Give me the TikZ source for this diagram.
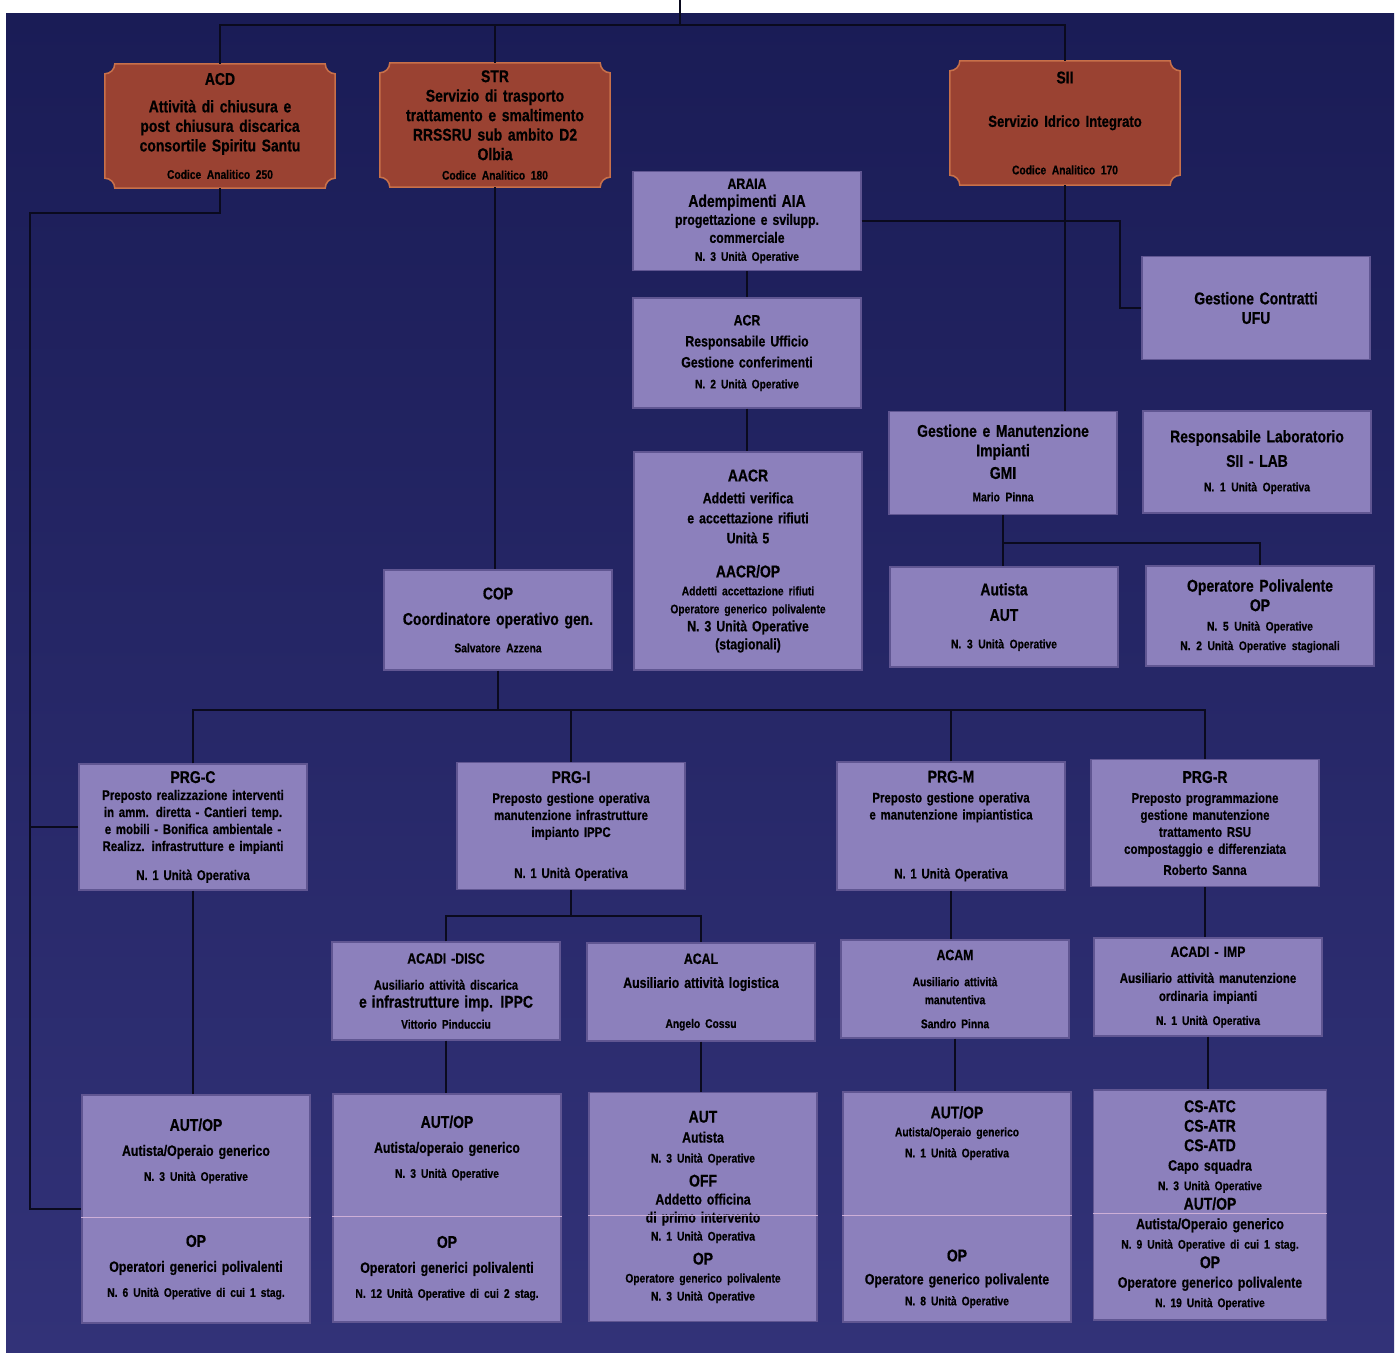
\documentclass[tikz,border=0pt]{standalone}
\usepackage{fontspec}
\setmainfont{Liberation Sans}[FakeStretch=0.82, WordSpace=0.7, BoldFeatures={FakeBold=0.6}]
\usepackage{tikz}
\usetikzlibrary{calc}
\definecolor{navytop}{RGB}{26,28,86}
\definecolor{navybot}{RGB}{50,50,120}
\definecolor{lilac}{RGB}{140,128,188}
\definecolor{lilacedge}{RGB}{96,86,146}
\definecolor{rust}{RGB}{154,66,50}
\definecolor{rustedge}{RGB}{200,112,74}
\definecolor{wire}{RGB}{10,10,30}
\definecolor{seam}{RGB}{205,175,215}

\pgfdeclarelayer{bglayer}
\pgfdeclarelayer{framelayer}
\pgfsetlayers{bglayer,framelayer,main}

\newcommand{\hd}{\fontsize{17}{19}\selectfont}
\newcommand{\sm}{\fontsize{12.5}{15}\selectfont}
% brown box with notched corners, drawn behind node #1
\newcommand{\ticketframe}[1]{%
  \path[fill=rust, draw=rustedge, line width=1.5pt]
    let \p1=(#1.north west), \p2=(#1.south east) in
    (\x1+10pt,\y1) -- (\x2-10pt,\y1) arc[start angle=180, end angle=270, radius=10pt]
    -- (\x2,\y2+10pt) arc[start angle=90, end angle=180, radius=10pt]
    -- (\x1+10pt,\y2) arc[start angle=0, end angle=90, radius=10pt]
    -- (\x1,\y1-10pt) arc[start angle=270, end angle=360, radius=10pt] -- cycle;}

\begin{document}
\begin{tikzpicture}[x=1pt, y=-1pt,
  unit/.style={draw=lilacedge, fill=lilac, line width=1.2pt, align=center, inner sep=0pt,
    minimum width=228pt, minimum height=100pt, text width=224pt,
    font=\bfseries\fontsize{15}{18}\selectfont},
  ticket/.style={align=center, inner sep=0pt, minimum width=230pt, minimum height=124pt,
    text width=226pt, font=\bfseries\fontsize{17}{19.5}\selectfont},
  bigtext/.style={font=\bfseries\fontsize{17}{19.5}\selectfont},
  smalltext/.style={font=\bfseries\fontsize{14}{17}\selectfont},
  link/.style={draw=wire, line width=2.6pt},
  seamline/.style={draw=seam, line width=0.8pt}]

  % background
  \begin{pgfonlayer}{bglayer}
    \fill[white] (0,0) rectangle (1399,1356);
    \shade[top color=navytop, bottom color=navybot] (6,14) rectangle (1394,1352);
  \end{pgfonlayer}
  \useasboundingbox (0,0) rectangle (1399,1356);

  % top row
  \node[ticket] (acd) at (220,126) {{\hd ACD}\\[8pt] Attività di chiusura e\\ post chiusura discarica\\ consortile Spiritu Santu\\[8pt] {\sm Codice Analitico 250}};
  \node[ticket] (str) at (495,125) {STR\\ Servizio di trasporto\\ trattamento e smaltimento\\ RRSSRU sub ambito D2\\ Olbia\\ {\sm Codice Analitico 180}};
  \node[ticket] (sii) at (1065,123) {SII\\[24pt] {\fontsize{16}{19}\selectfont Servizio Idrico Integrato}\\[28pt] {\sm Codice Analitico 170}};
  \begin{pgfonlayer}{framelayer}
    \foreach \t in {acd,str,sii} {\ticketframe{\t}}
  \end{pgfonlayer}

  % middle block
  \node[unit, minimum height=99pt] (araia) at (747,221) {ARAIA\\ {\hd Adempimenti AIA}\\ progettazione e svilupp.\\ commerciale\\ {\sm N. 3 Unità Operative}};
  \node[unit, minimum height=110pt] (acr) at (747,353) {ACR\\[3pt] Responsabile Ufficio\\[3pt] Gestione conferimenti\\[3pt] {\sm N. 2 Unità Operative}};
  \node[unit, bigtext, minimum height=103pt] (gc) at (1256,308) {Gestione Contratti\\ UFU};
  \node[unit, bigtext, minimum height=103pt] (gm) at (1003,463) {Gestione e Manutenzione\\ Impianti\\[3pt] GMI\\[3pt] {\sm Mario Pinna}};
  \node[unit, bigtext, minimum height=102pt] (lab) at (1257,462) {Responsabile Laboratorio\\[5pt] SII - LAB\\[5pt] {\sm N. 1 Unità Operativa}};
  \node[unit, minimum height=218pt] (aacr) at (748,561) {{\hd AACR}\\[4pt] Addetti verifica\\[2pt] e accettazione rifiuti\\[2pt] Unità 5\\[16pt] {\hd AACR/OP}\\ {\sm Addetti accettazione rifiuti}\\ {\sm Operatore generico polivalente}\\ N. 3 Unità Operative\\ (stagionali)};
  \node[unit, bigtext] (cop) at (498,620) {COP\\[6pt] Coordinatore operativo gen.\\[8pt] {\sm Salvatore Azzena}};
  \node[unit, bigtext] (aut) at (1004,617) {Autista\\[6pt] AUT\\[8pt] {\sm N. 3 Unità Operative}};
  \node[unit, bigtext] (oppol) at (1260,616) {Operatore Polivalente\\ OP\\ {\sm N. 5 Unità Operative}\\ {\sm N. 2 Unità Operative stagionali}};

  % PRG row
  \node[unit, smalltext, minimum height=126pt] (prgc) at (193,827) {{\hd PRG-C}\\ Preposto realizzazione interventi\\ in amm. diretta - Cantieri temp.\\ e mobili - Bonifica ambientale -\\ Realizz. infrastrutture e impianti\\[12pt] N. 1 Unità Operativa};
  \node[unit, smalltext, minimum height=127pt] (prgi) at (571,826) {{\hd PRG-I}\\[3pt] Preposto gestione operativa\\ manutenzione infrastrutture\\ impianto IPPC\\[24pt] N. 1 Unità Operativa};
  \node[unit, smalltext, minimum height=128pt] (prgm) at (951,826) {{\hd PRG-M}\\[3pt] Preposto gestione operativa\\ e manutenzione impiantistica\\[42pt] N. 1 Unità Operativa};
  \node[unit, smalltext, minimum height=127pt] (prgr) at (1205,823) {{\hd PRG-R}\\[3pt] Preposto programmazione\\ gestione manutenzione\\ trattamento RSU\\ compostaggio e differenziata\\[4pt] Roberto Sanna};

  % auxiliary row
  \node[unit, minimum height=98pt] (acadi) at (446,991) {ACADI -DISC\\[8pt] {\fontsize{13.5}{16}\selectfont Ausiliario attività discarica}\\ {\hd e infrastrutture imp. IPPC}\\[3pt] {\sm Vittorio Pinducciu}};
  \node[unit, minimum height=98pt] (acal) at (701,992) {ACAL\\[6pt] Ausiliario attività logistica\\[22pt] {\sm Angelo Cossu}};
  \node[unit, minimum height=98pt] (acam) at (955,989) {ACAM\\[8pt] {\sm Ausiliario attività}\\ {\sm manutentiva}\\[6pt] {\sm Sandro Pinna}};
  \node[unit, minimum height=98pt] (acimp) at (1208,987) {ACADI - IMP\\[8pt] {\fontsize{14}{16}\selectfont Ausiliario attività manutenzione}\\ {\fontsize{14}{16}\selectfont ordinaria impianti}\\[6pt] {\sm N. 1 Unità Operativa}};

  % bottom row
  \node[unit, minimum height=228pt] (b1) at (196,1209) {{\hd AUT/OP}\\[7pt] Autista/Operaio generico\\[7pt] {\sm N. 3 Unità Operative}\\[48pt] {\hd OP}\\[7pt] Operatori generici polivalenti\\[7pt] {\sm N. 6 Unità Operative di cui 1 stag.}};
  \node[unit, minimum height=228pt] (b2) at (447,1208) {{\hd AUT/OP}\\[7pt] Autista/operaio generico\\[7pt] {\sm N. 3 Unità Operative}\\[52pt] {\hd OP}\\[7pt] Operatori generici polivalenti\\[7pt] {\sm N. 12 Unità Operative di cui 2 stag.}};
  \node[unit, minimum height=229pt] (b3) at (703,1207) {{\hd AUT}\\[2pt] Autista\\[2pt] {\sm N. 3 Unità Operative}\\[6pt] {\hd OFF}\\ Addetto officina\\ di primo intervento\\ {\sm N. 1 Unità Operativa}\\[6pt] {\hd OP}\\ {\sm Operatore generico polivalente}\\ {\sm N. 3 Unità Operative}};
  \node[unit, minimum height=230pt] (b4) at (957,1207) {{\hd AUT/OP}\\ {\sm Autista/Operaio generico}\\[3pt] {\sm N. 1 Unità Operativa}\\[86pt] {\hd OP}\\[5pt] Operatore generico polivalente\\[3pt] {\sm N. 8 Unità Operative}};
  \node[unit, minimum width=233pt, minimum height=230pt, font=\bfseries\fontsize{15}{19.5}\selectfont] (b5) at (1210,1205) {{\hd CS-ATC}\\ {\hd CS-ATR}\\ {\hd CS-ATD}\\ Capo squadra\\ {\sm N. 3 Unità Operative}\\ {\hd AUT/OP}\\ Autista/Operaio generico\\ {\sm N. 9 Unità Operative di cui 1 stag.}\\ {\hd OP}\\ Operatore generico polivalente\\ {\sm N. 19 Unità Operative}};
  \foreach \b in {b1,b2,b3,b4,b5}
    \draw[seamline] ([yshift=-8pt]\b.west) -- ([yshift=-8pt]\b.east);

  % connectors
  \coordinate (topend) at (680,0);
  \coordinate (topbus) at (680,25);
  \coordinate (leftrail) at (30,0);
  \coordinate (rightrail) at (1120,0);
  \coordinate (prgbus) at (0,710);
  \coordinate (ibus) at (571,916);

  \draw[link] (topend) -- (topbus);
  \draw[link] (acd.north) |- (topbus) -| (sii.north);
  \draw[link] (str.north) -- (str.north |- topbus);
  \draw[link] (acd.south) -- ++(0,25) -| (leftrail |- b1.west) -- (b1.west);
  \draw[link] (prgc.west) -- (prgc.west -| leftrail);
  \draw[link] (str.south) -- (str.south |- cop.north);
  \draw[link] (sii.south) -- (sii.south |- gm.north);
  \draw[link] (araia.east) -- (araia.east -| rightrail) |- (gc.west);
  \draw[link] (araia.south) -- (araia.south |- acr.north);
  \draw[link] (acr.south) -- (acr.south |- aacr.north);
  \draw[link] (gm.south) -- (gm.south |- aut.north);
  \draw[link] (gm.south) -- ++(0,28) -| (oppol.north);
  \draw[link] (cop.south) -- (cop.south |- prgbus);
  \draw[link] (prgc.north) -- (prgc.north |- prgbus) -- (prgr.north |- prgbus) -- (prgr.north);
  \draw[link] (prgi.north) -- (prgi.north |- prgbus);
  \draw[link] (prgm.north) -- (prgm.north |- prgbus);
  \draw[link] (prgc.south) -- (prgc.south |- b1.north);
  \draw[link] (prgi.south) -- (ibus);
  \draw[link] (acadi.north) |- (ibus) -| (acal.north);
  \draw[link] (acadi.south) -- (acadi.south |- b2.north);
  \draw[link] (acal.south) -- (acal.south |- b3.north);
  \draw[link] (prgm.south) -- (prgm.south |- acam.north);
  \draw[link] (acam.south) -- (acam.south |- b4.north);
  \draw[link] (prgr.south) -- (prgr.south |- acimp.north);
  \draw[link] (acimp.south) -- (acimp.south |- b5.north);

\end{tikzpicture}
\end{document}
